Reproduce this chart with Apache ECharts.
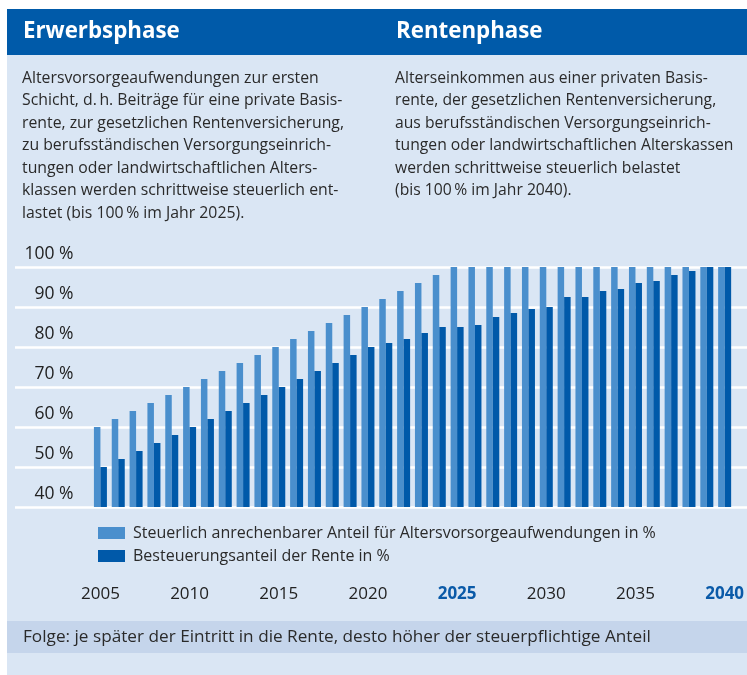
<!DOCTYPE html>
<html><head><meta charset="utf-8">
<script src="https://cdn.jsdelivr.net/npm/echarts@6/dist/echarts.min.js"></script>
<style>html,body{margin:0;padding:0;background:#fff}#c{width:747px;height:675px}</style>
</head><body><div id="c"></div>
<script>
const years = ['2005','2006','2007','2008','2009','2010','2011','2012','2013','2014','2015','2016','2017','2018','2019','2020','2021','2022','2023','2024','2025','2026','2027','2028','2029','2030','2031','2032','2033','2034','2035','2036','2037','2038','2039','2040'];
const deductibleShare = [60,62,64,66,68,70,72,74,76,78,80,82,84,86,88,90,92,94,96,98,100,100,100,100,100,100,100,100,100,100,100,100,100,100,100,100];
const taxableShare = [50,52,54,56,58,60,62,64,66,68,70,72,74,76,78,80,81,82,83.5,85,85,85.5,87.5,88.5,89.5,90,92.5,92.5,94,94.5,96,96.5,98,99,100,100];
const yMin = 40, yMax = 100, yStep = 10;
const highlightYears = ['2025','2040'];
const seriesNames = ['Steuerlich anrechenbarer Anteil für Altersvorsorgeaufwendungen in %','Besteuerungsanteil der Rente in %'];
const headLeft = 'Erwerbsphase';
const headRight = 'Rentenphase';
const textLeft = ['Altersvorsorgeaufwendungen zur ersten','Schicht, d.\u2009h. Beiträge für eine private Basis-','rente, zur gesetzlichen Rentenversicherung,','zu berufsständischen Versorgungseinrich-','tungen oder landwirtschaftlichen Alters-','klassen werden schrittweise steuerlich ent-','lastet (bis 100\u2009% im Jahr 2025).'];
const textRight = ['Alterseinkommen aus einer privaten Basis-','rente, der gesetzlichen Rentenversicherung,','aus berufsständischen Versorgungseinrich-','tungen oder landwirtschaftlichen Alterskassen','werden schrittweise steuerlich belastet','(bis 100\u2009% im Jahr 2040).'];
const footerText = 'Folge: je später der Eintritt in die Rente, desto höher der steuerpflichtige Anteil';

const FONT = '"Open Sans", "Noto Sans", sans-serif';
const TXT = '#2a2a2a';
const chart = echarts.init(document.getElementById('c'), null, {renderer:'canvas'});
chart.setOption({
  animation:false,
  textStyle:{fontFamily:FONT},
  graphic:[
    {type:'rect', z:-10, shape:{x:7,y:55,width:740,height:620}, style:{fill:'#dae6f4'}},
    {type:'rect', z:-10, shape:{x:7,y:9,width:740,height:46}, style:{fill:'#005aa9'}},
    {type:'rect', z:-10, shape:{x:7,y:621,width:740,height:32}, style:{fill:'#c5d5eb'}},
    {type:'text', x:23, y:31.5, style:{text:headLeft, fill:'#fff', font:'bold 22.3px '+FONT, verticalAlign:'middle'}},
    {type:'text', x:396, y:31.5, style:{text:headRight, fill:'#fff', font:'bold 22.3px '+FONT, verticalAlign:'middle'}},
    {type:'text', x:22, y:67, style:{text:textLeft.join('\n'), fill:TXT, font:'15.8px '+FONT, lineHeight:22.5, verticalAlign:'top'}},
    {type:'text', x:395, y:67, style:{text:textRight.join('\n'), fill:TXT, font:'15.7px '+FONT, lineHeight:22.5, verticalAlign:'top'}},
    {type:'text', x:23, y:637, style:{text:footerText, fill:TXT, font:'17.2px '+FONT, verticalAlign:'middle'}}
  ],
  grid:[
    {left:15, right:0, top:267, height:240},
    {left:91.5, width:648, top:267, height:240}
  ],
  legend:{
    orient:'vertical', left:93, top:520, icon:'rect', itemWidth:27, itemHeight:12, itemGap:7,
    textStyle:{fontSize:16, lineHeight:16, color:TXT, fontFamily:FONT, padding:[0,0,0,3]},
    data:seriesNames
  },
  xAxis:[
    {gridIndex:0, type:'value', show:false},
    {gridIndex:1, type:'category', data:years, axisLine:{show:false}, axisTick:{show:false},
     axisLabel:{interval:4, margin:79, fontSize:17, color:'#222', fontFamily:FONT,
       formatter:v=> highlightYears.includes(v) ? '{h|'+v+'}' : v,
       rich:{h:{fontSize:17, fontWeight:'bold', color:'#0a5aa8', fontFamily:FONT}}}}
  ],
  yAxis:[
    {gridIndex:0, type:'value', min:yMin, max:yMax, interval:yStep, axisLabel:{show:false}, axisLine:{show:false}, axisTick:{show:false},
     splitLine:{lineStyle:{color:'#ffffff', width:2.5}}},
    {gridIndex:1, type:'value', min:yMin, max:yMax, interval:yStep, splitLine:{show:false}, axisLine:{show:false}, axisTick:{show:false},
     axisLabel:{margin:18, fontSize:17.5, color:'#222', fontFamily:FONT, verticalAlign:'bottom', padding:[0,0,4,0], formatter:'{value} %'}}
  ],
  series:[
    {name:seriesNames[0], type:'bar', xAxisIndex:1, yAxisIndex:1, data:deductibleShare, barWidth:6.5, barGap:'0%', itemStyle:{color:'#4a8fcd'}},
    {name:seriesNames[1], type:'bar', xAxisIndex:1, yAxisIndex:1, data:taxableShare, barWidth:6.5, barGap:'0%', itemStyle:{color:'#0059a9'}}
  ]
});
</script></body></html>
